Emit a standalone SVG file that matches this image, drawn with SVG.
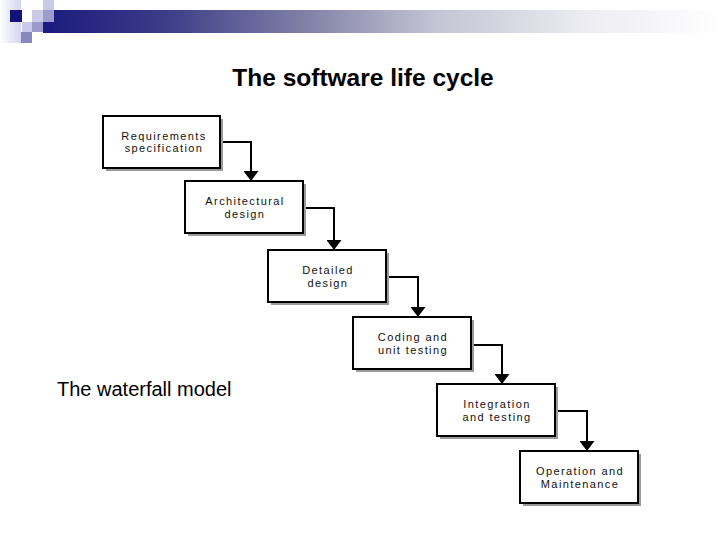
<svg xmlns="http://www.w3.org/2000/svg" width="720" height="540" viewBox="0 0 720 540">
  <defs>
    <linearGradient id="bar" x1="0" y1="0" x2="1" y2="0">
      <stop offset="0" stop-color="#1a1a7e"/>
      <stop offset="0.18" stop-color="#3c3c88"/>
      <stop offset="0.38" stop-color="#7e7ea6"/>
      <stop offset="0.58" stop-color="#c4c4d4"/>
      <stop offset="0.8" stop-color="#ececf2"/>
      <stop offset="1" stop-color="#ffffff"/>
    </linearGradient>
    <linearGradient id="side" x1="0" y1="0" x2="1" y2="0">
      <stop offset="0" stop-color="#ffffff"/>
      <stop offset="1" stop-color="#d4d4ee"/>
    </linearGradient>
    <marker id="ah" viewBox="0 0 10 15" refX="10" refY="7.5" markerWidth="10" markerHeight="15" markerUnits="userSpaceOnUse" orient="auto">
      <path d="M0,0 L10,7.5 L0,15 Z" fill="#000"/>
    </marker>
  </defs>
  <style>
    .box { fill: #ffffff; stroke: #000000; stroke-width: 2; }
    .shadow { fill: #9a9a9a; }
    .lbl { font-family: "Liberation Sans", Arial, sans-serif; font-size: 11px; letter-spacing: 1.4px; fill: #111111; text-anchor: middle; }
    .conn { fill: none; stroke: #000000; stroke-width: 2; }
  </style>
  <rect width="720" height="540" fill="#ffffff"/>

  <!-- header decoration -->
  <g id="header">
    <rect x="0" y="0" width="21" height="43" fill="url(#side)"/>
    <rect x="43" y="10" width="677" height="23" fill="url(#bar)"/>
    <rect x="10" y="10" width="12" height="12" fill="#12127a"/>
    <rect x="32" y="10" width="11" height="12" fill="#cacae8"/>
    <rect x="43" y="0" width="11" height="10" fill="#cacae8"/>
    <rect x="43" y="10" width="11" height="12" fill="#9c9cd0"/>
    <rect x="22" y="22" width="10" height="10" fill="#cacae8"/>
    <rect x="32" y="22" width="11" height="10" fill="#9a9acc"/>
    <rect x="43" y="22" width="11" height="11" fill="#1c1c80"/>
    <rect x="21" y="32" width="11" height="11" fill="#8888c0"/>
  </g>

  <text x="363" y="86" font-family="'Liberation Sans', Arial, sans-serif" font-size="24.5" font-weight="bold" text-anchor="middle" fill="#000">The software life cycle</text>
  <text x="57" y="396" font-family="'Liberation Sans', Arial, sans-serif" font-size="20" fill="#000">The waterfall model</text>

  <g id="connectors">
    <path class="conn" d="M220,142 H251 V181" marker-end="url(#ah)"/>
    <path class="conn" d="M303,208 H334 V250" marker-end="url(#ah)"/>
    <path class="conn" d="M386,277 H418 V317" marker-end="url(#ah)"/>
    <path class="conn" d="M471,345 H502 V384" marker-end="url(#ah)"/>
    <path class="conn" d="M555,411 H587 V451" marker-end="url(#ah)"/>
  </g>

  <g id="requirements">
    <rect class="shadow" x="106" y="119" width="117" height="52"/>
    <rect class="box" x="103" y="116" width="117" height="52"/>
    <text class="lbl" x="164" y="139.5">Requirements</text>
    <text class="lbl" x="164" y="152">specification</text>
  </g>
  <g id="architectural">
    <rect class="shadow" x="188" y="184" width="118" height="52"/>
    <rect class="box" x="185" y="181" width="118" height="52"/>
    <text class="lbl" x="245" y="205">Architectural</text>
    <text class="lbl" x="245" y="217.5">design</text>
  </g>
  <g id="detailed">
    <rect class="shadow" x="271" y="253" width="118" height="52"/>
    <rect class="box" x="268" y="250" width="118" height="52"/>
    <text class="lbl" x="328" y="274">Detailed</text>
    <text class="lbl" x="328" y="286.5">design</text>
  </g>
  <g id="coding">
    <rect class="shadow" x="356" y="320" width="118" height="52"/>
    <rect class="box" x="353" y="317" width="118" height="52"/>
    <text class="lbl" x="413" y="341">Coding and</text>
    <text class="lbl" x="413" y="353.5">unit testing</text>
  </g>
  <g id="integration">
    <rect class="shadow" x="440" y="387" width="118" height="52"/>
    <rect class="box" x="437" y="384" width="118" height="52"/>
    <text class="lbl" x="497" y="408">Integration</text>
    <text class="lbl" x="497" y="420.5">and testing</text>
  </g>
  <g id="operation">
    <rect class="shadow" x="523" y="454" width="118" height="52"/>
    <rect class="box" x="520" y="451" width="118" height="52"/>
    <text class="lbl" x="580" y="475">Operation and</text>
    <text class="lbl" x="580" y="487.5">Maintenance</text>
  </g>
</svg>
